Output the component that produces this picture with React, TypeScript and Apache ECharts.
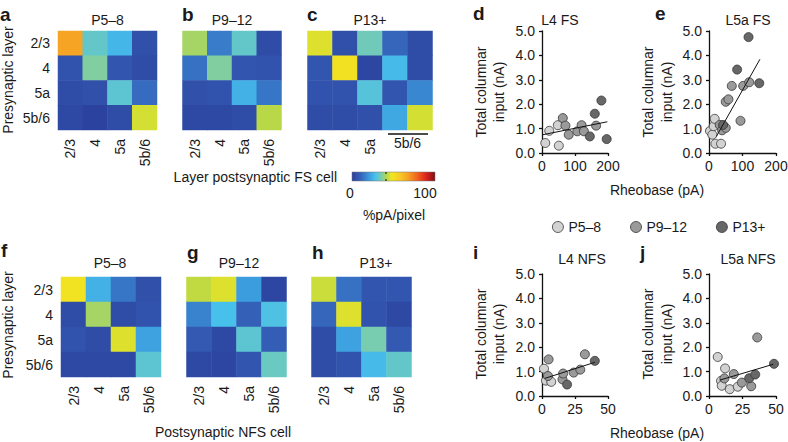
import React, { useEffect, useRef } from 'react';
import * as echarts from 'echarts';

const FONT = "'Liberation Sans', Arial, Helvetica, sans-serif";
const INK = '#1a1a1a';

// ---------- heatmap data (rows = presynaptic layer, cols = postsynaptic) ----------
const layers = ['2/3', '4', '5a', '5b/6'];
const layersC = ['2/3', '4', '5a', '5b', '6'];

const fsP58 = [
  [67, 32, 26, 5],
  [6, 36, 7, 4],
  [4, 5, 31, 12],
  [3, 1, 4, 45],
];
const fsP912 = [
  [40, 15, 32, 4],
  [13, 36, 7, 6],
  [5, 6, 25, 14],
  [3, 3, 4, 42],
];
const fsP13 = [
  [46, 5, 34, 11, 4],
  [7, 50, 2, 27, 4],
  [6, 6, 30, 7, 17],
  [4, 4, 5, 23, 45],
];
const nfsP58 = [
  [49, 25, 14, 5],
  [4, 40, 4, 6],
  [6, 4, 46, 22],
  [3, 3, 3, 31],
];
const nfsP912 = [
  [43, 46, 21, 2],
  [16, 28, 10, 29],
  [8, 3, 31, 9],
  [3, 2, 7, 33],
];
const nfsP13 = [
  [44, 13, 7, 7],
  [11, 46, 6, 3],
  [4, 22, 35, 8],
  [4, 6, 27, 32],
];

// ---------- scatter data [rheobase pA, total columnar input nA] ----------
const dP58 = [[10, 0.41], [22, 0.91], [48, 1.14], [51, 0.3]];
const dP912 = [[63, 1.43], [71, 1.12], [81, 0.75], [107, 0.89], [120, 1.14], [127, 0.89], [164, 1.12]];
const dP13 = [[145, 0.68], [160, 1.61], [180, 2.15], [196, 0.57]];
const dFit = [[3, 0.75], [198, 1.28]];

const eP58 = [[3, 0.9], [10, 0.75], [14, 1.1], [17, 1.4], [19, 0.38], [36, 0.38]];
const eP912 = [[32, 1.15], [39, 0.93], [50, 1.03], [50, 2.1], [58, 2.2], [68, 2.75], [94, 1.32], [102, 2.75], [120, 2.9]];
const eP13 = [[42, 1.15], [84, 3.42], [118, 4.75], [150, 2.86]];
const eFit = [[22, 0.68], [152, 3.84]];

const iP58 = [[1.5, 1.12], [3, 0.63], [7, 0.58]];
const iP912 = [[4.5, 0.82], [5, 1.5], [15.5, 0.68], [16, 0.92], [24, 0.96], [29, 1.08], [32.5, 1.71]];
const iP13 = [[19, 0.47], [40, 1.44]];
const iFit = [[2, 0.72], [40, 1.38]];

const jP58 = [[6.5, 1.6], [9, 0.62], [9.5, 0.42], [12, 1.13], [15.5, 0.28], [21.5, 0.38]];
const jP912 = [[11.5, 0.72], [18.5, 0.9], [24.5, 0.55], [31.5, 0.4], [36, 2.4]];
const jP13 = [[30, 0.73], [34.5, 0.88], [48.5, 1.32]];
const jFit = [[8, 0.65], [48, 1.3]];

const groupNames = ['P5–8', 'P9–12', 'P13+'];
const groupColors = ['#d2d2d2', '#9a9a9a', '#676767'];

// colour map of the %pA/pixel bar
const cmapStops: [number, string][] = [
  [0, '#2b3f9c'],
  [10, '#3560b8'],
  [20, '#3a98dc'],
  [28, '#48c0ec'],
  [35, '#78ccb0'],
  [42, '#b8d848'],
  [48, '#f0e620'],
  [58, '#f8c828'],
  [68, '#f5a023'],
  [80, '#f05a1e'],
  [90, '#d8201e'],
  [100, '#7d0f14'],
];

function hexToRgb(h: string) {
  const n = parseInt(h.slice(1), 16);
  return [(n >> 16) & 255, (n >> 8) & 255, n & 255];
}
function colorAt(v: number) {
  for (let k = 0; k < cmapStops.length - 1; k++) {
    const [v0, c0] = cmapStops[k];
    const [v1, c1] = cmapStops[k + 1];
    if (v >= v0 && v <= v1) {
      const t = (v - v0) / (v1 - v0);
      const a = hexToRgb(c0);
      const b = hexToRgb(c1);
      const m = a.map((x, i) => Math.round(x + (b[i] - x) * t));
      return `rgb(${m[0]},${m[1]},${m[2]})`;
    }
  }
  return cmapStops[cmapStops.length - 1][1];
}
const palette = Array.from({ length: 101 }, (_, i) => colorAt(i));

function toCells(m: number[][]) {
  const out: number[][] = [];
  m.forEach((row, r) => row.forEach((v, c) => out.push([c, r, v])));
  return out;
}

function txt(x: number, y: number, text: string, o: any = {}) {
  return {
    type: 'text',
    x,
    y,
    rotation: o.rot || 0,
    silent: true,
    style: {
      text,
      fill: INK,
      fontSize: o.size || 14,
      fontFamily: FONT,
      fontWeight: o.bold ? 'bold' : 'normal',
      textAlign: o.align || 'center',
      textVerticalAlign: o.va || 'middle',
      align: o.align || 'center',
      verticalAlign: o.va || 'middle',
    },
  };
}

export default function App() {
  const ref = useRef<HTMLDivElement>(null);

  useEffect(() => {
    if (!ref.current) return;
    const chart = echarts.init(ref.current, undefined, { renderer: 'svg' });

    const heatGrids = [
      { left: 58, top: 31, width: 99, height: 99 },
      { left: 182.5, top: 31, width: 99, height: 99 },
      { left: 307.5, top: 31, width: 125, height: 99 },
      { left: 61, top: 277, width: 100, height: 100 },
      { left: 186.5, top: 277, width: 100, height: 100 },
      { left: 311.5, top: 277, width: 100, height: 100 },
    ];
    const scatGrids = [
      { left: 542, top: 31, width: 66, height: 122 },
      { left: 709, top: 31, width: 67, height: 122 },
      { left: 542, top: 274, width: 66, height: 122 },
      { left: 709, top: 274, width: 67, height: 122 },
    ];
    const grids = [...heatGrids, ...scatGrids].map((g) => ({ ...g, containLabel: false, outerBoundsMode: 'none' }));

    const heatMats = [fsP58, fsP912, fsP13, nfsP58, nfsP912, nfsP13];

    const xAxes: any[] = [];
    const yAxes: any[] = [];
    heatMats.forEach((m, i) => {
      const cats = i === 2 ? layersC : layers;
      xAxes.push({
        gridIndex: i,
        type: 'category',
        data: cats,
        axisLine: { show: false },
        axisTick: { show: false },
        splitLine: { show: false },
        axisLabel: {
          rotate: 90,
          margin: 9,
          fontSize: 14,
          fontFamily: FONT,
          color: INK,
          formatter: (v: string) => (i === 2 && (v === '5b' || v === '6') ? '' : v),
        },
      });
      yAxes.push({
        gridIndex: i,
        type: 'category',
        data: layers,
        inverse: true,
        axisLine: { show: false },
        axisTick: { show: false },
        splitLine: { show: false },
        axisLabel: { margin: 8, fontSize: 14, fontFamily: FONT, color: INK, show: i === 0 || i === 3 },
      });
    });

    const xRanges = [200, 200, 50, 50];
    const xIntervals = [100, 100, 25, 25];
    const axisLineStyle = { color: '#111', width: 1.3 };
    scatGrids.forEach((_, k) => {
      const gi = 6 + k;
      xAxes.push({
        gridIndex: gi,
        type: 'value',
        min: 0,
        max: xRanges[k],
        interval: xIntervals[k],
        axisLine: { show: true, lineStyle: axisLineStyle },
        axisTick: { show: true, length: 3, lineStyle: axisLineStyle },
        splitLine: { show: false },
        axisLabel: { margin: 6, fontSize: 14, fontFamily: FONT, color: INK, showMinLabel: true, showMaxLabel: true },
      });
      yAxes.push({
        gridIndex: gi,
        type: 'value',
        min: 0,
        max: 5,
        interval: 1,
        axisLine: { show: true, lineStyle: axisLineStyle },
        axisTick: { show: true, length: 3, lineStyle: axisLineStyle },
        splitLine: { show: false },
        axisLabel: {
          margin: 7,
          fontSize: 14,
          fontFamily: FONT,
          color: INK,
          formatter: (v: number) => v.toFixed(1),
        },
      });
    });

    const series: any[] = heatMats.map((m, i) => ({
      type: 'heatmap',
      xAxisIndex: i,
      yAxisIndex: i,
      data: toCells(m),
      emphasis: { disabled: true },
      itemStyle: { borderWidth: 0 },
    }));

    const scatterSets = [
      [dP58, dP912, dP13, dFit],
      [eP58, eP912, eP13, eFit],
      [iP58, iP912, iP13, iFit],
      [jP58, jP912, jP13, jFit],
    ];
    scatterSets.forEach((set, k) => {
      const gi = 6 + k;
      for (let g = 0; g < 3; g++) {
        series.push({
          type: 'scatter',
          name: groupNames[g],
          xAxisIndex: gi,
          yAxisIndex: gi,
          data: set[g],
          symbol: 'circle',
          symbolSize: 9,
          itemStyle: { color: groupColors[g], borderColor: '#333', borderWidth: 0.8, opacity: 1 },
          emphasis: { disabled: true },
          z: 2,
        });
      }
      series.push({
        type: 'line',
        xAxisIndex: gi,
        yAxisIndex: gi,
        data: set[3],
        symbol: 'none',
        lineStyle: { color: '#111', width: 1 },
        emphasis: { disabled: true },
        z: 3,
      });
    });

    const gradient = new echarts.graphic.LinearGradient(
      0,
      0,
      1,
      0,
      cmapStops.map(([v, c]) => ({ offset: v / 100, color: c }))
    );

    const graphic: any[] = [
      // panel letters
      txt(0, 14, 'a', { bold: true, size: 19, align: 'left' }),
      txt(182, 14, 'b', { bold: true, size: 19, align: 'left' }),
      txt(307, 14, 'c', { bold: true, size: 19, align: 'left' }),
      txt(473, 13, 'd', { bold: true, size: 19, align: 'left' }),
      txt(655, 13, 'e', { bold: true, size: 19, align: 'left' }),
      txt(1, 250, 'f', { bold: true, size: 19, align: 'left' }),
      txt(187, 252, 'g', { bold: true, size: 19, align: 'left' }),
      txt(312, 252, 'h', { bold: true, size: 19, align: 'left' }),
      txt(473, 252, 'i', { bold: true, size: 19, align: 'left' }),
      txt(640, 252, 'j', { bold: true, size: 19, align: 'left' }),
      // heatmap titles
      txt(107.5, 20, 'P5–8'),
      txt(232, 20, 'P9–12'),
      txt(370, 20, 'P13+'),
      txt(110, 263, 'P5–8'),
      txt(239, 263, 'P9–12'),
      txt(376, 263, 'P13+'),
      // scatter titles
      txt(560, 20, 'L4 FS'),
      txt(748, 20, 'L5a FS'),
      txt(582, 259, 'L4 NFS'),
      txt(748, 259, 'L5a NFS'),
      // axis names
      txt(8, 80, 'Presynaptic layer', { rot: Math.PI / 2 }),
      txt(8, 325, 'Presynaptic layer', { rot: Math.PI / 2 }),
      txt(337, 177, 'Layer postsynaptic FS cell', { align: 'right' }),
      txt(223, 432, 'Postsynaptic NFS cell'),
      txt(481, 92, 'Total columnar', { rot: Math.PI / 2 }),
      txt(499, 92, 'input (nA)', { rot: Math.PI / 2 }),
      txt(648, 92, 'Total columnar', { rot: Math.PI / 2 }),
      txt(667, 92, 'input (nA)', { rot: Math.PI / 2 }),
      txt(481, 334, 'Total columnar', { rot: Math.PI / 2 }),
      txt(499, 334, 'input (nA)', { rot: Math.PI / 2 }),
      txt(648, 334, 'Total columnar', { rot: Math.PI / 2 }),
      txt(667, 334, 'input (nA)', { rot: Math.PI / 2 }),
      txt(657, 190, 'Rheobase (pA)'),
      txt(657, 433, 'Rheobase (pA)'),
      // 5b/6 grouped label in panel c
      txt(407.5, 143, '5b/6'),
      {
        type: 'line',
        silent: true,
        shape: { x1: 388, y1: 134, x2: 428, y2: 134 },
        style: { stroke: '#111', lineWidth: 1.3 },
      },
      // colour bar
      {
        type: 'rect',
        silent: true,
        shape: { x: 352, y: 172, width: 83, height: 9 },
        style: { fill: gradient, stroke: '#777', lineWidth: 0.5 },
      },
      {
        type: 'line',
        silent: true,
        shape: { x1: 386, y1: 172, x2: 386, y2: 174 },
        style: { stroke: '#111', lineWidth: 1 },
      },
      {
        type: 'line',
        silent: true,
        shape: { x1: 386, y1: 179, x2: 386, y2: 181 },
        style: { stroke: '#111', lineWidth: 1 },
      },
      txt(350, 193, '0'),
      txt(425, 193, '100'),
      txt(394, 215, '%pA/pixel'),
    ];

    chart.setOption({
      animation: false,
      backgroundColor: '#ffffff',
      textStyle: { fontFamily: FONT },
      grid: grids,
      xAxis: xAxes,
      yAxis: yAxes,
      visualMap: {
        type: 'continuous',
        show: false,
        min: 0,
        max: 100,
        seriesIndex: [0, 1, 2, 3, 4, 5],
        inRange: { color: palette },
      },
      legend: {
        data: groupNames,
        left: 547,
        top: 215,
        icon: 'circle',
        itemWidth: 11,
        itemHeight: 11,
        itemGap: 29,
        selectedMode: false,
        itemStyle: { borderColor: '#333', borderWidth: 0.8 },
        textStyle: { fontSize: 14, fontFamily: FONT, color: INK },
      },
      graphic,
      series,
    });

    return () => chart.dispose();
  }, []);

  return (
    <div
      ref={ref}
      style={{ position: 'absolute', left: 0, top: 0, width: 788, height: 442, background: '#fff' }}
    />
  );
}
